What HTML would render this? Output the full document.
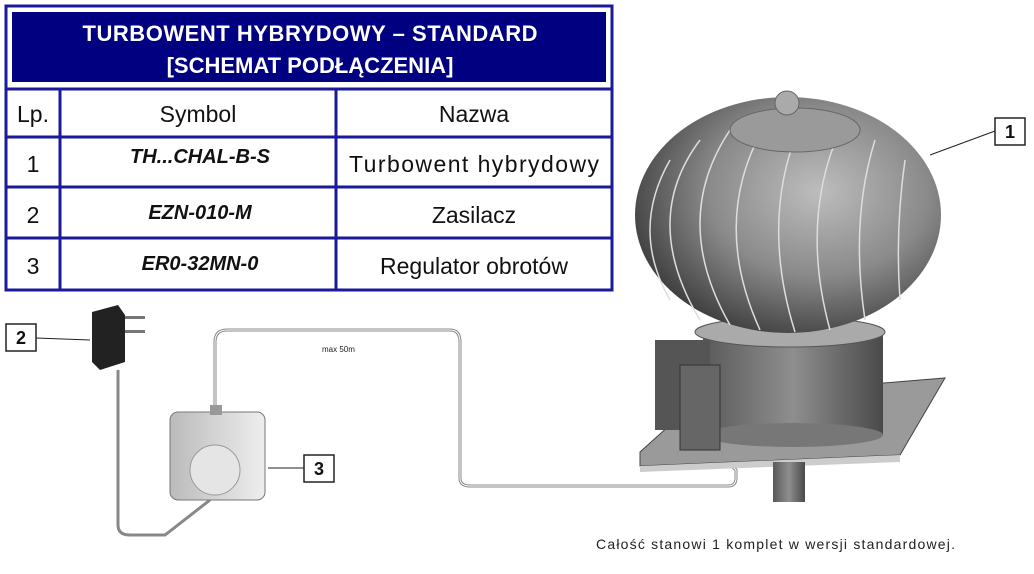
<!DOCTYPE html>
<html><head><meta charset="utf-8"><style>
body{margin:0;width:1034px;height:574px;background:#fff;overflow:hidden}
svg{display:block}
text{font-family:"Liberation Sans",sans-serif}
</style></head><body>
<svg width="1034" height="574" viewBox="0 0 1034 574">
<defs>
<radialGradient id="dome" cx="0.6" cy="0.4" r="0.65">
<stop offset="0" stop-color="#bdbdbd"/><stop offset="0.55" stop-color="#8a8a8a"/><stop offset="1" stop-color="#3e3e3e"/></radialGradient>
<linearGradient id="cyl" x1="0" x2="1"><stop offset="0" stop-color="#5a5a5a"/><stop offset="0.5" stop-color="#8e8e8e"/><stop offset="1" stop-color="#4a4a4a"/></linearGradient>
<linearGradient id="reg" x1="0" x2="1"><stop offset="0" stop-color="#bbb"/><stop offset="1" stop-color="#eee"/></linearGradient>
</defs>
<!-- table -->
<rect x="6" y="6" width="606" height="284" fill="#fff" stroke="#1a1a9a" stroke-width="3"/>
<rect x="12" y="12" width="594" height="70" fill="#000080"/>
<line x1="6" y1="89" x2="612" y2="89" stroke="#1a1a9a" stroke-width="3"/>
<line x1="6" y1="137" x2="612" y2="137" stroke="#1a1a9a" stroke-width="3"/>
<line x1="6" y1="187" x2="612" y2="187" stroke="#1a1a9a" stroke-width="3"/>
<line x1="6" y1="238" x2="612" y2="238" stroke="#1a1a9a" stroke-width="3"/>
<line x1="60" y1="89" x2="60" y2="290" stroke="#1a1a9a" stroke-width="3"/>
<line x1="336" y1="89" x2="336" y2="290" stroke="#1a1a9a" stroke-width="3"/>
<g fill="#fff" font-weight="bold" font-size="22" text-anchor="middle">
<text x="310" y="41" textLength="455">TURBOWENT HYBRYDOWY – STANDARD</text>
<text x="310" y="73">[SCHEMAT PODŁĄCZENIA]</text></g>
<g font-size="23" fill="#111" text-anchor="middle">
<text x="33" y="122">Lp.</text><text x="198" y="122">Symbol</text><text x="474" y="122">Nazwa</text>
<text x="33" y="172">1</text><text x="474" y="172" textLength="250">Turbowent hybrydowy</text>
<text x="33" y="223">2</text><text x="474" y="223">Zasilacz</text>
<text x="33" y="274">3</text><text x="474" y="274">Regulator obrotów</text></g>
<g font-size="20" font-weight="bold" font-style="italic" fill="#111" text-anchor="middle">
<text x="200" y="163">TH...CHAL-B-S</text><text x="200" y="219">EZN-010-M</text><text x="200" y="270">ER0-32MN-0</text></g>
<!-- cables -->
<g fill="none" stroke="#888" stroke-width="3">
<path d="M215 410 V342 Q215 330 227 330 H450 Q460 330 460 342 V478 Q460 486 470 486 H728 Q736 486 736 478 V470 L700 440"/>
<path d="M118 370 V525 Q118 535 130 535 H165 L210 500"/>
</g>
<g fill="none" stroke="#fff" stroke-width="1">
<path d="M215 410 V342 Q215 330 227 330 H450 Q460 330 460 342 V478 Q460 486 470 486 H728 Q736 486 736 478 V470 L700 440"/>
</g>
<text x="322" y="352" font-size="8" fill="#222">max 50m</text>
<!-- turbine -->
<polygon points="640,452 700,398 945,378 900,455 640,466" fill="#9a9a9a" stroke="#444"/>
<polygon points="640,466 900,455 900,462 640,472" fill="#ccc"/>
<rect x="773" y="462" width="32" height="40" fill="url(#cyl)"/>
<rect x="703" y="335" width="180" height="100" fill="url(#cyl)"/>
<ellipse cx="793" cy="435" rx="90" ry="12" fill="#777"/>
<rect x="655" y="340" width="55" height="90" fill="#555"/>
<rect x="680" y="365" width="40" height="85" fill="#666" stroke="#333"/>
<ellipse cx="790" cy="332" rx="95" ry="15" fill="#aaa" stroke="#555"/>
<ellipse cx="788" cy="215" rx="153" ry="118" fill="url(#dome)"/>
<g fill="none" stroke="#ddd" stroke-width="1.5">
<path d="M700 140 Q640 220 700 320"/><path d="M730 130 Q670 220 730 325"/><path d="M765 125 Q710 220 760 330"/>
<path d="M800 125 Q760 220 795 332"/><path d="M840 130 Q800 220 830 330"/><path d="M875 140 Q850 220 865 320"/>
<path d="M905 160 Q895 230 900 300"/><path d="M670 160 Q630 230 670 300"/></g>
<ellipse cx="795" cy="130" rx="65" ry="22" fill="#9a9a9a" stroke="#666"/>
<circle cx="787" cy="103" r="12" fill="#aaa" stroke="#666"/>
<!-- adapter -->
<path d="M92 312 L118 305 L125 315 L125 362 L100 370 L92 362 Z" fill="#222"/>
<rect x="125" y="316" width="20" height="3" fill="#777"/><rect x="125" y="330" width="20" height="3" fill="#777"/>
<!-- regulator -->
<rect x="170" y="412" width="95" height="88" rx="8" fill="url(#reg)" stroke="#777"/>
<circle cx="215" cy="470" r="25" fill="#e5e5e5" stroke="#999"/>
<rect x="210" y="405" width="12" height="10" fill="#999"/>
<!-- labels -->
<g stroke="#222" stroke-width="1" fill="none">
<line x1="995" y1="131" x2="930" y2="155"/><line x1="36" y1="338" x2="90" y2="340"/><line x1="304" y1="468" x2="268" y2="468"/></g>
<g fill="#fff" stroke="#222" stroke-width="1.5">
<rect x="995" y="118" width="30" height="27"/><rect x="6" y="324" width="30" height="27"/><rect x="304" y="455" width="30" height="27"/></g>
<g font-size="18" font-weight="bold" fill="#111" text-anchor="middle">
<text x="1010" y="138">1</text><text x="21" y="344">2</text><text x="319" y="475">3</text></g>
<text x="596" y="549" font-size="14" fill="#222" textLength="359">Całość stanowi 1 komplet w wersji standardowej.</text>
</svg>
</body></html>
